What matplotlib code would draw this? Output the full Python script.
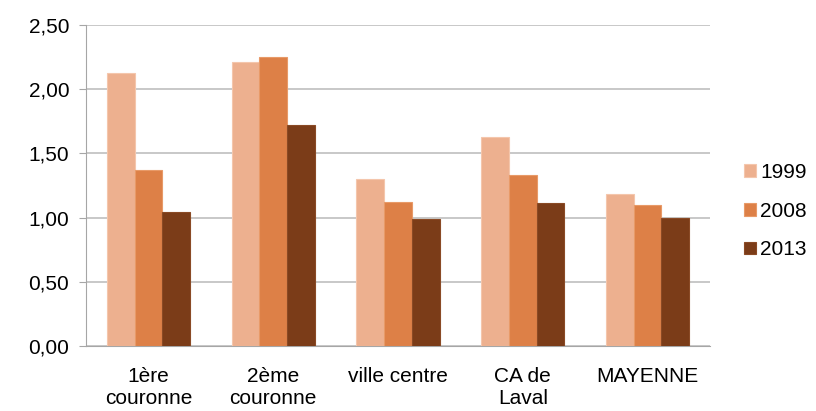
import matplotlib.pyplot as plt
import numpy as np

plt.rcParams['font.family'] = ['Liberation Sans', 'DejaVu Sans']

categories = ['1ère\ncouronne', '2ème\ncouronne', 'ville centre', 'CA de\nLaval', 'MAYENNE']
years = ['1999', '2008', '2013']
v1999 = [2.13, 2.21, 1.30, 1.63, 1.18]
v2008 = [1.37, 2.25, 1.12, 1.33, 1.10]
v2013 = [1.04, 1.72, 0.99, 1.11, 1.00]
colors = ['#EDB08F', '#DD8047', '#7B3C18']
edges = ['#F4C6AC', '#E89A68', '#8A4A25']

fig = plt.figure(figsize=(8.16, 4.11), dpi=100)
ax = fig.add_axes([86 / 816, 65 / 411, 624 / 816, 321 / 411])

x = np.arange(len(categories))
w = 0.222
for i, (vals, c, e, lab) in enumerate(zip([v1999, v2008, v2013], colors, edges, years)):
    ax.bar(x + (i - 1) * w, vals, w, color=c, edgecolor=e, linewidth=0.8, label=lab, zorder=3)

ax.set_xlim(-0.5, 4.5)
ax.set_ylim(0, 2.5)
ax.set_yticks(np.arange(0, 2.51, 0.5))
ax.set_yticklabels([f'{v:.2f}'.replace('.', ',') for v in np.arange(0, 2.51, 0.5)], fontsize=15)
ax.set_xticks(x)
ax.set_xticklabels(categories, fontsize=15, linespacing=1.2)
ax.tick_params(axis='x', length=0, pad=15)
ax.tick_params(axis='y', length=5, color='#A6A6A6', pad=7)
ax.grid(axis='y', color='#BFBFBF', linewidth=1.2, zorder=0)
for s in ['top', 'right']:
    ax.spines[s].set_visible(False)
ax.spines['left'].set_color('#A6A6A6')
ax.spines['bottom'].set_color('#A6A6A6')

ax.legend(loc='center left', bbox_to_anchor=(1.025, 0.42), frameon=False, fontsize=15,
          handlelength=0.55, handleheight=0.55, handletextpad=0.2, labelspacing=0.95)

fig.savefig('out.png', dpi=100)
